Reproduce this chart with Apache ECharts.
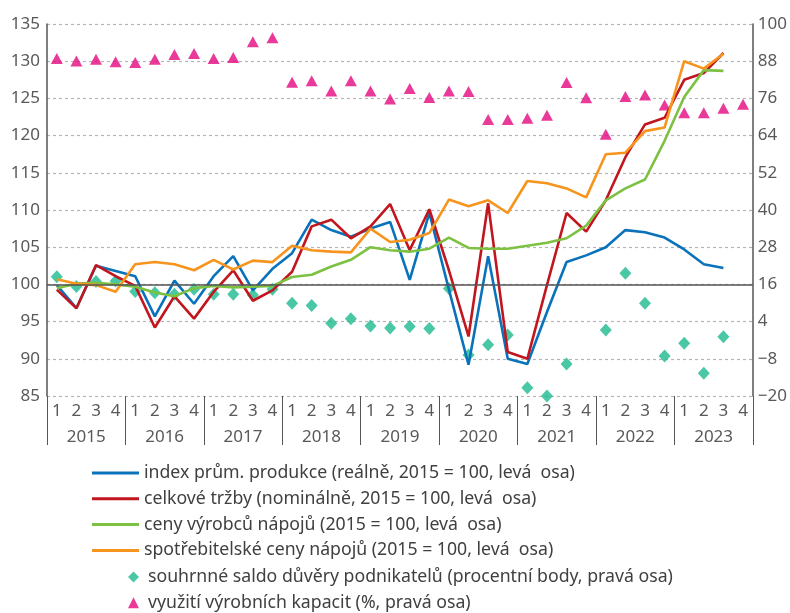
<!DOCTYPE html>
<html>
<head>
<meta charset="utf-8">
<script src="https://cdn.jsdelivr.net/npm/echarts@6/dist/echarts.min.js"></script>
<style>
  html, body { margin: 0; padding: 0; background: #fff; }
  #chart { width: 790px; height: 613px; }
</style>
</head>
<body>
<div id="chart"></div>
<script>
const years = ['2015', '2016', '2017', '2018', '2019', '2020', '2021', '2022', '2023'];
const quarters = ['1', '2', '3', '4'];

// levá osa (2015 = 100)
const indexProd = [99.9, 96.8, 102.5, 101.8, 101.1, 95.7, 100.5, 97.4, 101.1, 103.8, 99.2, 102.1,
    104.2, 108.7, 107.3, 106.4, 107.5, 108.4, 100.6, 109.6, 99.3, 89.2, 103.8, 90.0,
    89.3, 96.3, 103.0, 103.9, 105.0, 107.3, 107.0, 106.3, 104.7, 102.7, 102.2, null];
const trzby = [99.3, 96.8, 102.6, 101.1, 99.8, 94.2, 98.4, 95.4, 99.0, 101.9, 97.8, 99.2,
    101.7, 107.8, 108.7, 106.2, 107.8, 110.8, 104.6, 110.1, 101.9, 93.0, 110.9, 90.9,
    90.0, 99.9, 109.6, 107.1, 111.3, 117.1, 121.5, 122.4, 127.5, 128.4, 131.1, null];
const cenyVyrobcu = [99.5, 100.1, 100.2, 100.0, 99.7, 98.9, 98.4, 99.5, 99.8, 99.6, 99.7, 99.8,
    101.0, 101.3, 102.4, 103.3, 105.0, 104.6, 104.4, 104.8, 106.3, 104.9, 104.8, 104.8,
    105.2, 105.6, 106.2, 107.9, 111.3, 112.9, 114.1, 119.3, 125.2, 128.8, 128.7, null];
const spotrCeny = [100.7, 100.1, 99.9, 99.0, 102.7, 103.0, 102.7, 101.9, 103.3, 102.0, 103.2, 103.0,
    105.2, 104.6, 104.4, 104.3, 107.5, 105.7, 106.0, 106.9, 111.4, 110.5, 111.3, 109.6,
    113.9, 113.6, 112.9, 111.7, 117.5, 117.7, 120.6, 121.1, 130.0, 129.0, 131.0, null];

// pravá osa
const saldoDuvery = [18.5, 15.3, 16.9, 17.1, 13.7, 13.3, 12.8, 14.4, 12.8, 12.8, 12.6, 14.4,
    9.9, 9.2, 3.5, 4.9, 2.6, 1.9, 2.4, 1.8, 14.7, -6.8, -3.5, -0.3,
    -17.3, -20.0, -9.7, null, 1.3, 19.6, 9.9, -7.1, -3.0, -12.7, -0.9, null];
const vyuzitiKapacit = [88.9, 88.1, 88.6, 87.8, 87.6, 88.6, 90.2, 90.5, 88.9, 89.2, 94.3, 95.6,
    81.2, 81.7, 78.4, 81.7, 78.4, 75.8, 79.2, 76.3, 78.4, 78.2, 69.2, 69.2,
    69.6, 70.6, 81.1, 76.2, 64.4, 76.6, 77.1, 73.9, 71.4, 71.4, 72.8, 74.1];

const names = [
    'index prům. produkce (reálně, 2015 = 100, levá  osa)',
    'celkové tržby (nominálně, 2015 = 100, levá  osa)',
    'ceny výrobců nápojů (2015 = 100, levá  osa)',
    'spotřebitelské ceny nápojů (2015 = 100, levá  osa)',
    'souhrnné saldo důvěry podnikatelů (procentní body, pravá osa)',
    'využití výrobních kapacit (%, pravá osa)'
];

const categories = [];
years.forEach(y => quarters.forEach(q => categories.push(y + '-' + q)));

const font = 'Noto Sans';
const axisColor = '#555';
const labelColor = '#595959';
const legendText = { fontSize: 17.7, color: '#404040', fontFamily: font };

function lineSeries(name, data, color) {
    return {
        name: name,
        type: 'line',
        data: data,
        symbol: 'none',
        lineStyle: { color: color, width: 2.6 },
        itemStyle: { color: color }
    };
}

const chart = echarts.init(document.getElementById('chart'));

const option = {
    animation: false,
    textStyle: { fontFamily: font },
    grid: { left: 47, right: 33, top: 24, bottom: 217 },
    legend: [
        {
            data: names.slice(0, 4),
            orient: 'vertical',
            left: 92,
            top: 464,
            padding: 0,
            icon: 'rect',
            itemWidth: 47,
            itemHeight: 3,
            itemGap: 7.8,
            selectedMode: false,
            textStyle: legendText
        },
        {
            data: names.slice(4),
            orient: 'vertical',
            left: 128,
            top: 568,
            padding: 0,
            itemWidth: 11,
            itemHeight: 11,
            itemGap: 7.8,
            selectedMode: false,
            textStyle: Object.assign({ padding: [0, 0, 0, 4] }, legendText)
        }
    ],
    xAxis: [
        {
            type: 'category',
            position: 'bottom',
            data: categories,
            boundaryGap: true,
            axisLine: { show: false },
            axisTick: { show: false },
            axisLabel: {
                interval: 0,
                margin: 7,
                fontSize: 17,
                color: labelColor,
                formatter: v => v.split('-')[1]
            }
        },
        {
            type: 'category',
            position: 'bottom',
            data: years,
            boundaryGap: true,
            axisLine: { show: false },
            axisTick: { show: true, interval: 0, length: 49, lineStyle: { color: axisColor, width: 1 } },
            axisLabel: { interval: 0, margin: 33, fontSize: 17, color: labelColor }
        }
    ],
    yAxis: [
        {
            type: 'value',
            position: 'left',
            min: 85,
            max: 135,
            interval: 5,
            axisLine: { show: true, lineStyle: { color: axisColor, width: 1.5 } },
            axisTick: { show: false },
            axisLabel: { fontSize: 17, color: labelColor, margin: 7 },
            splitLine: { show: true, lineStyle: { color: '#b5b5b5', type: [3, 3], width: 1.2 } }
        },
        {
            type: 'value',
            position: 'right',
            min: -20,
            max: 100,
            interval: 12,
            axisLine: { show: true, lineStyle: { color: axisColor, width: 1.5 } },
            axisTick: { show: false },
            axisLabel: {
                fontSize: 17,
                color: labelColor,
                margin: 5,
                formatter: v => String(v).replace('-', '\u2212')
            },
            splitLine: { show: false }
        }
    ],
    series: [
        Object.assign(lineSeries(names[0], indexProd, '#0a72ba'), {
            markLine: {
                silent: true,
                symbol: 'none',
                label: { show: false },
                lineStyle: { color: '#555', type: 'solid', width: 1.5 },
                data: [{ yAxis: 100 }]
            }
        }),
        lineSeries(names[1], trzby, '#c1161e'),
        lineSeries(names[2], cenyVyrobcu, '#7cc142'),
        lineSeries(names[3], spotrCeny, '#f7941d'),
        {
            name: names[4],
            type: 'scatter',
            yAxisIndex: 1,
            data: saldoDuvery,
            symbol: 'diamond',
            symbolSize: [12, 13],
            clip: false,
            itemStyle: { color: '#1db98e' }
        },
        {
            name: names[5],
            type: 'scatter',
            yAxisIndex: 1,
            data: vyuzitiKapacit,
            symbol: 'triangle',
            symbolSize: [12, 11],
            clip: false,
            itemStyle: { color: '#e4097f' }
        }
    ]
};

chart.setOption(option);
</script>
</body>
</html>
